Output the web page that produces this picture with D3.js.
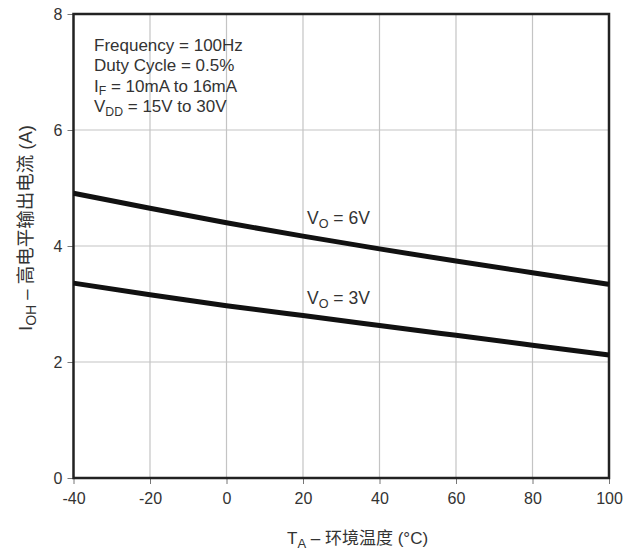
<!DOCTYPE html>
<html><head><meta charset="utf-8">
<script src="https://cdn.jsdelivr.net/npm/d3@7"></script>
<style>body{margin:0;background:#fff}text{font-family:"Liberation Sans",Arial,"Noto Sans CJK SC",sans-serif;fill:#333}</style>
</head><body><svg id="c" width="639" height="553"></svg>
<script>
const temps = [-40, -20, 0, 20, 40, 60, 80, 100];
const vo6 = [4.91, 4.65, 4.40, 4.17, 3.95, 3.74, 3.54, 3.34];
const vo3 = [3.36, 3.16, 2.97, 2.80, 2.63, 2.46, 2.29, 2.12];
const xTicks = [-40, -20, 0, 20, 40, 60, 80, 100];
const yTicks = [0, 2, 4, 6, 8];
const notes = ["Frequency = 100Hz", "Duty Cycle = 0.5%", ["I", "F", " = 10mA to 16mA"], ["V", "DD", " = 15V to 30V"]];

const svg = d3.select("#c");
const x = d3.scaleLinear().domain([-40, 100]).range([73.5, 609]);
const y = d3.scaleLinear().domain([0, 8]).range([478, 14]);

// grid
svg.append("g").selectAll("line").data(xTicks.slice(1, -1)).join("line")
  .attr("x1", d => x(d)).attr("x2", d => x(d)).attr("y1", y(8)).attr("y2", y(0))
  .attr("stroke", "#c4c4c4").attr("stroke-width", 1.2);
svg.append("g").selectAll("line").data(yTicks.slice(1, -1)).join("line")
  .attr("y1", d => y(d)).attr("y2", d => y(d)).attr("x1", x(-40)).attr("x2", x(100))
  .attr("stroke", "#c4c4c4").attr("stroke-width", 1.2);

// axes
const xa = svg.append("g").attr("transform", `translate(0,${y(0)})`)
  .call(d3.axisBottom(x).tickValues(xTicks).tickSize(6).tickPadding(6).tickFormat(d => String(d)));
const ya = svg.append("g").attr("transform", `translate(${x(-40)},0)`)
  .call(d3.axisLeft(y).tickValues(yTicks).tickSize(6).tickPadding(5).tickFormat(d => String(d)));
[xa, ya].forEach(a => {
  a.select(".domain").remove();
  a.selectAll(".tick line").attr("stroke", "#777");
  a.selectAll(".tick text").style("font-size", "16px").attr("fill", "#333");
});
xa.selectAll(".tick text").attr("dy", "0.9em");

// frame
svg.append("rect").attr("x", x(-40)).attr("y", y(8)).attr("width", x(100) - x(-40)).attr("height", y(0) - y(8))
  .attr("fill", "none").attr("stroke", "#222").attr("stroke-width", 2.5);

// curves
const line = d3.line().x((d, i) => x(temps[i])).y(d => y(d)).curve(d3.curveNatural);
[vo6, vo3].forEach(s => {
  svg.append("path").attr("d", line(s)).attr("fill", "none").attr("stroke", "#111").attr("stroke-width", 5);
});

// curve labels
function sublabel(px, py, main, sub, rest, fs) {
  const t = svg.append("text").attr("x", px).attr("y", py).style("font-size", fs + "px");
  t.append("tspan").text(main);
  t.append("tspan").attr("dy", fs * 0.2).style("font-size", (fs * 0.72) + "px").text(sub);
  t.append("tspan").attr("dy", -fs * 0.2).text(rest);
  return t;
}
sublabel(307, 224, "V", "O", " = 6V", 17.5);
sublabel(307, 304, "V", "O", " = 3V", 17.5);

// notes
notes.forEach((n, i) => {
  const py = 51 + i * 20.4;
  if (typeof n === "string") {
    svg.append("text").attr("x", 94).attr("y", py).style("font-size", "17px").text(n);
  } else {
    sublabel(94, py, n[0], n[1], n[2], 17);
  }
});

// axis titles
const xt = svg.append("text").attr("x", 287).attr("y", 544).attr("text-anchor", "start").style("font-size", "17px");
xt.append("tspan").text("T");
xt.append("tspan").attr("dy", 4).style("font-size", "13px").text("A");
xt.append("tspan").attr("dy", -4).text(" – 环境温度 (°C)");

const yt = svg.append("text").attr("transform", `translate(32,228) rotate(-90)`).attr("text-anchor", "middle").style("font-size", "18.5px");
yt.append("tspan").text("I");
yt.append("tspan").attr("dy", 4).style("font-size", "14px").text("OH");
yt.append("tspan").attr("dy", -4).text(" – 高电平输出电流 (A)");
</script></body></html>
